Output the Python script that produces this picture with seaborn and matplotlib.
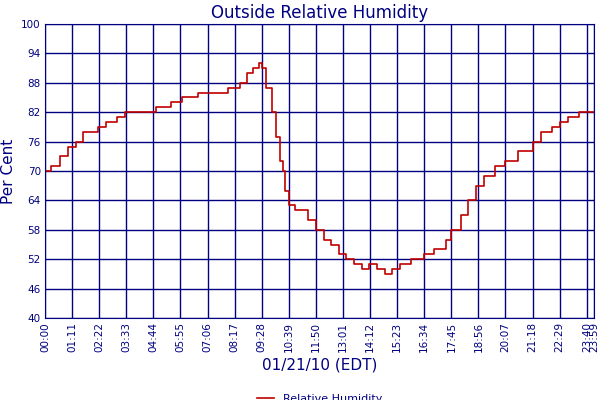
import numpy as np
import pandas as pd
import matplotlib
matplotlib.use("Agg")
import matplotlib.pyplot as plt
import seaborn as sns

times = ["00:00", "00:15", "00:40", "01:00", "01:20", "01:40", "02:20", "02:40", "03:10", "03:30",
         "04:00", "04:50", "05:30", "06:00", "06:40", "07:30", "08:00", "08:30", "08:50", "09:05",
         "09:20", "09:28", "09:40", "09:55", "10:05", "10:15", "10:25", "10:30", "10:40", "10:55",
         "11:10", "11:30", "11:50", "12:10", "12:30", "12:50", "13:10", "13:30", "13:50", "14:10",
         "14:30", "14:50", "15:10", "15:30", "16:00", "16:34", "17:00", "17:30", "17:45", "18:10",
         "18:30", "18:50", "19:10", "19:40", "20:07", "20:40", "21:18", "21:40", "22:10", "22:29",
         "22:50", "23:20", "23:59"]
humidity = [70, 71, 73, 75, 76, 78, 79, 80, 81, 82,
            82, 83, 84, 85, 86, 86, 87, 88, 90, 91,
            92, 91, 87, 82, 77, 72, 70, 66, 63, 62,
            62, 60, 58, 56, 55, 53, 52, 51, 50, 51,
            50, 49, 50, 51, 52, 53, 54, 56, 58, 61,
            64, 67, 69, 71, 72, 74, 76, 78, 79, 80,
            81, 82, 82]
tick_labels = ["00:00", "01:11", "02:22", "03:33", "04:44", "05:55", "07:06", "08:17", "09:28",
               "10:39", "11:50", "13:01", "14:12", "15:23", "16:34", "17:45", "18:56", "20:07",
               "21:18", "22:29", "23:40", "23:59"]
y_ticks = [40, 46, 52, 58, 64, 70, 76, 82, 88, 94, 100]


def to_min(t):
    h, m = t.split(":")
    return int(h) * 60 + int(m)


df = pd.DataFrame({"minute": [to_min(t) for t in times], "Relative Humidity": humidity})
navy = "#000080"

fig, ax = plt.subplots(figsize=(6, 4), dpi=100)
fig.subplots_adjust(left=0.075, right=0.99, top=0.94, bottom=0.205)
sns.lineplot(data=df, x="minute", y="Relative Humidity", ax=ax, color="#c00000",
             drawstyle="steps-post", linewidth=1.2, label="Relative Humidity")

ax.set_xlim(0, 1439)
ax.set_ylim(40, 100)
ax.set_xticks([to_min(t) for t in tick_labels])
ax.set_xticklabels(tick_labels, rotation=90, fontsize=7.5, color=navy)
ax.set_yticks(y_ticks)
ax.set_yticklabels(y_ticks, fontsize=7.5, color=navy)
ax.tick_params(length=0, pad=3)
ax.grid(True, color=navy, linewidth=1)
for s in ax.spines.values():
    s.set_color(navy)
ax.set_title("Outside Relative Humidity", color=navy, fontsize=12, pad=4)
ax.set_xlabel("01/21/10 (EDT)", color=navy, fontsize=11)
ax.set_ylabel("Per Cent", color=navy, fontsize=11)
ax.legend(loc="upper center", bbox_to_anchor=(0.5, -0.235), frameon=False, fontsize=8,
          labelcolor=navy, handlelength=1.5, borderpad=0.1)
fig.savefig("out.png")
